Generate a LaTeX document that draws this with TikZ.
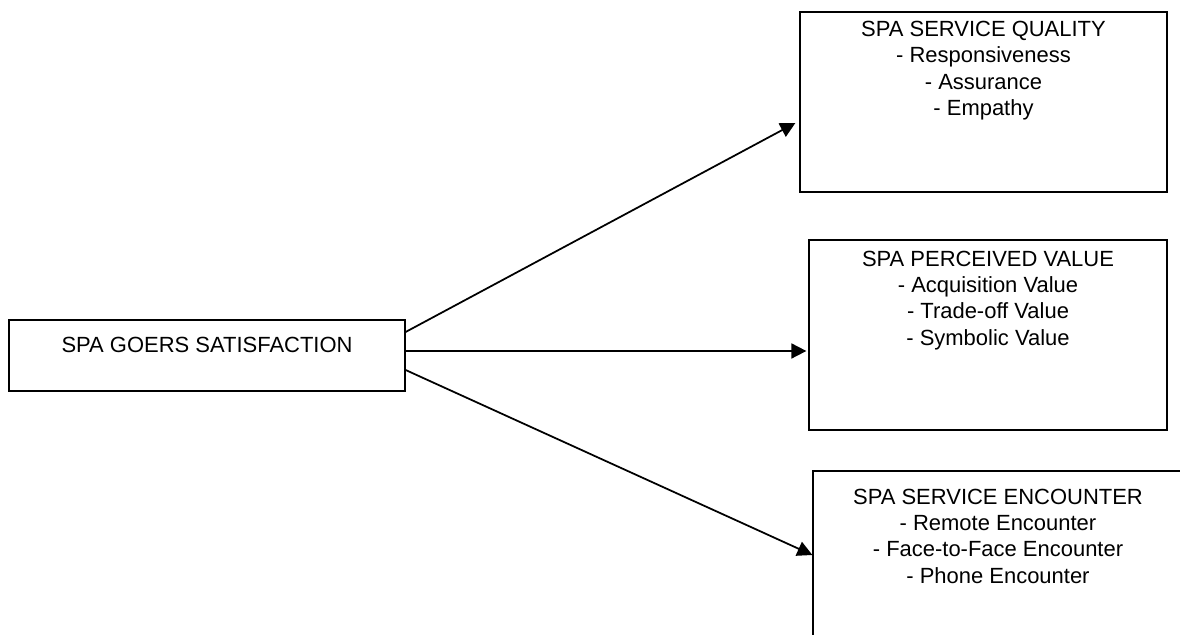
\documentclass[tikz,border=0pt]{standalone}
\usepackage{fontspec}
\setmainfont{Liberation Sans}
\usetikzlibrary{positioning, arrows.meta}

\tikzset{
    frame/.style = {draw, line width=0.7pt, inner sep=0pt},
    boxtext/.style = {align=center, inner sep=0pt, font=\fontsize{12.5}{15}\selectfont},
    link/.style = {line width=1pt, -{Triangle[length=0.3cm, width=0.3cm]}}
}

\begin{document}
\begin{tikzpicture}
    \useasboundingbox (0,0) rectangle (23.6,12.7);
    \node[frame, minimum width=7.92cm, minimum height=1.42cm] (goers) at (4.14,5.59) {};
    \node[frame, minimum width=7.34cm, minimum height=3.6cm] (quality) at (19.67,10.66) {};
    \node[frame, minimum width=7.16cm, minimum height=3.8cm] (value) at (19.76,6.0) {};
    \node[frame, minimum width=7.4cm, minimum height=3.8cm] (encounter) at (19.96,1.38) {};
    \node[boxtext, below=0.35cm of goers.north] (goerstext) {SPA GOERS SATISFACTION};
    \node[boxtext, below=0.19cm of quality.north] (qualitytext)
        {SPA SERVICE QUALITY\\- Responsiveness\\- Assurance\\- Empathy};
    \node[boxtext, below=0.22cm of value.north] (valuetext)
        {SPA PERCEIVED VALUE\\- Acquisition Value\\- Trade-off Value\\- Symbolic Value};
    \node[boxtext, below=0.36cm of encounter.north] (encountertext)
        {SPA SERVICE ENCOUNTER\\- Remote Encounter\\- Face-to-Face Encounter\\- Phone Encounter};
    \draw[link] ([yshift=0.47cm]goers.east) -- ([shift={(-0.08,-0.42)}]quality.west);
    \draw[link] ([yshift=0.09cm]goers.east) -- ([shift={(-0.04,-0.32)}]value.west);
    \draw[link] ([yshift=-0.29cm]goers.east) -- ([yshift=0.22cm]encounter.west);
\end{tikzpicture}
\end{document}
